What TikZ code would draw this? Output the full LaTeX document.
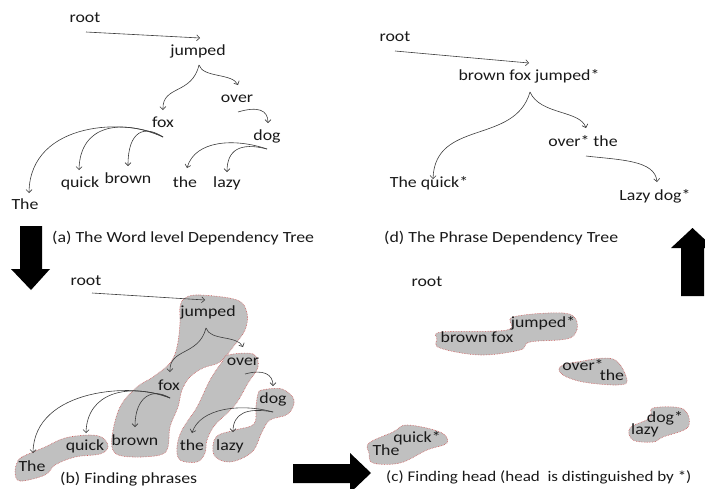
\documentclass[tikz,border=0pt]{standalone}
\usepackage{fontspec}
\setmainfont{Carlito}[FakeStretch=1.15]
\usetikzlibrary{arrows.meta,calc}
\definecolor{txt}{RGB}{25,25,25}
\definecolor{arr}{RGB}{60,60,60}
\definecolor{blobfill}{RGB}{192,192,192}
\definecolor{blobedge}{RGB}{205,90,90}
\begin{document}
\begin{tikzpicture}[x=1pt,y=-1pt,
  w/.style={font=\fontsize{15.5}{17}\selectfont, text=txt, inner sep=1pt, text height=10pt, text depth=3pt},
  captxt/.style={w, anchor=west},
  con/.style={draw=arr, line width=0.6pt, -{Straight Barb[length=3pt,width=6pt]}},
  blob/.style={fill=blobfill, draw=blobedge, densely dotted, line width=0.6pt},
  big/.style={fill=black, draw=none}]
\useasboundingbox (0,0) rectangle (705,488);
\clip (0,0) rectangle (705,488);

% ---------- block arrows ----------
\fill[big] (20,226) -- (42,226) -- (42,269) -- (50,269) -- (31,290) -- (11,269) -- (20,269) -- cycle;
\fill[big] (681,296) -- (704,296) -- (704,248) -- (714,248) -- (692.5,228) -- (671,248) -- (681,248) -- cycle;
\fill[big] (293,464) -- (350,464) -- (350,453) -- (371,473) -- (350,493) -- (350,483) -- (293,483) -- cycle;

% ---------- panel (a) ----------
\node[w] (rootA) at (85,19) {root};
\node[w] (jA) at (198,52) {jumped};
\node[w] (overA) at (237,99) {over};
\node[w] (foxA) at (163,124) {fox};
\node[w] (dogA) at (267,137) {dog};
\node[w] (quickA) at (80,184) {quick};
\node[w] (brownA) at (128,180) {brown};
\node[w] (TheA) at (25,206) {The};
\node[w] (theA) at (185,184) {the};
\node[w] (lazyA) at (227,184) {lazy};
\node[captxt] (capA) at (51,239) {(a) The Word level Dependency Tree};

\draw[con] ($(rootA)+(1,13)$) -- ($(jA)+(2,-14)$);
\draw[con] ($(jA)+(1,13)$) .. controls +(-7,30) and +(-1,-25) .. ($(foxA)+(0,-14)$);
\draw[con] ($(jA)+(1,13)$) .. controls +(4,13) and +(-6,-12) .. ($(overA)+(1,-14)$);
\draw[con] ($(overA)+(1,13)$) .. controls +(20,-6) and +(0,-13) .. ($(dogA)+(1,-14)$);
\draw[con] ($(foxA)+(0,13)$) .. controls +(-33,-19) and +(1,-73) .. ($(TheA)+(4,-13)$);
\draw[con] ($(foxA)+(0,13)$) .. controls +(-43,-19) and +(1,-45) .. ($(quickA)+(-1,-14)$);
\draw[con] ($(foxA)+(0,13)$) .. controls +(-18,-12) and +(0,-36) .. ($(brownA)+(0,-14)$);
\draw[con] ($(dogA)+(0,12)$) .. controls +(-32,-11) and +(8,-28) .. ($(theA)+(2,-16)$);
\draw[con] ($(dogA)+(0,12)$) .. controls +(-27,-7) and +(0,-22) .. ($(lazyA)+(0,-12)$);

% ---------- panel (d) ----------
\node[w] (rootD) at (395,38) {root};
\node[w] (bfjD) at (529,77) {brown fox jumped*};
\node[w] (overD) at (583,143) {over* the};
\node[w] (quickD) at (429,184) {The quick*};
\node[w] (lazyD) at (655,197) {Lazy dog*};
\node[captxt] (capD) at (383,239) {(d) The Phrase Dependency Tree};

\draw[con] ($(rootD)+(0,13)$) -- ($(bfjD)+(0,-14)$);
\draw[con] ($(bfjD)+(1,15)$) .. controls +(-15,53) and +(2,-60) .. ($(quickD)+(4,-5)$);
\draw[con] ($(bfjD)+(1,15)$) .. controls +(10,23) and +(-6,-18) .. ($(overD)+(3,-15)$);
\draw[con] ($(overD)+(3,13)$) .. controls +(34,4) and +(-2,-22) .. ($(lazyD)+(2,-15)$);

% ---------- panel (b) ----------
\path[blob] plot[smooth cycle, tension=0.6] coordinates {(185,298) (200,295) (237,300) (247,313) (245,330) (233,347) (220,362) (203,368) (190,377) (182,390) (178,407) (170,427) (168,447) (160,455) (133,457) (115,453) (112,437) (120,407) (137,387) (153,377) (170,363) (177,347) (180,323) (180,307)};
\path[blob] plot[smooth cycle, tension=0.6] coordinates {(228,355) (253,354) (258,367) (248,383) (235,405) (215,425) (207,440) (205,453) (197,462) (180,460) (177,447) (182,430) (197,407) (210,380) (222,362)};
\path[blob] plot[smooth cycle, tension=0.6] coordinates {(262,390) (282,389) (294,400) (288,414) (270,420) (262,432) (252,452) (230,462) (214,455) (216,437) (235,430) (254,424) (256,406) (258,394)};
\path[blob] plot[smooth cycle, tension=0.6] coordinates {(17,463) (22,457) (45,447) (65,438) (90,435) (103,438) (108,447) (100,454) (75,457) (55,465) (45,475) (20,481) (15,472)};

\node[w] (rootB) at (86,282) {root};
\node[w] (jB) at (208,313) {jumped};
\node[w] (overB) at (243,362) {over};
\node[w] (foxB) at (169,387) {fox};
\node[w] (dogB) at (273,400) {dog};
\node[w] (quickB) at (85,447) {quick};
\node[w] (brownB) at (135,442) {brown};
\node[w] (TheB) at (32,468) {The};
\node[w] (theB) at (192,447) {the};
\node[w] (lazyB) at (230,447) {lazy};
\node[captxt] (capB) at (59,480) {(b) Finding phrases};

\draw[con] ($(rootB)+(6,11)$) -- ($(jB)+(-3,-13)$);
\draw[con] ($(jB)+(-2,15)$) .. controls +(-7,28) and +(-1,-24) .. ($(foxB)+(1,-15)$);
\draw[con] ($(jB)+(-2,15)$) .. controls +(4,13) and +(-6,-12) .. ($(overB)+(0,-15)$);
\draw[con] ($(overB)+(2,12)$) .. controls +(18,-5) and +(0,-12) .. ($(dogB)+(0,-14)$);
\draw[con] ($(foxB)+(1,11)$) .. controls +(-35,-16) and +(1,-65) .. ($(TheB)+(1,-15)$);
\draw[con] ($(foxB)+(1,11)$) .. controls +(-43,-16) and +(1,-40) .. ($(quickB)+(1,-14)$);
\draw[con] ($(foxB)+(1,11)$) .. controls +(-18,-11) and +(0,-30) .. ($(brownB)+(0,-15)$);
\draw[con] ($(dogB)+(0,12)$) .. controls +(-32,-9) and +(8,-25) .. ($(theB)+(0,-14)$);
\draw[con] ($(dogB)+(0,12)$) .. controls +(-27,-5) and +(0,-18) .. ($(lazyB)+(3,-15)$);

% ---------- panel (c) ----------
\path[blob] plot[smooth cycle, tension=0.6] coordinates {(437,339) (442,332) (507,330) (513,317) (563,313) (577,322) (570,338) (530,342) (520,350) (480,355) (440,348)};
\path[blob] plot[smooth cycle, tension=0.6] coordinates {(560,367) (577,362) (613,359) (627,380) (617,385) (583,382) (563,375)};
\path[blob] plot[smooth cycle, tension=0.6] coordinates {(653,408) (683,409) (688,427) (663,437) (653,442) (633,440) (630,428) (650,418)};
\path[blob] plot[smooth cycle, tension=0.6] coordinates {(369,443) (393,432) (407,425) (440,432) (447,443) (427,450) (400,463) (373,463) (369,453)};

\node[w] (rootC) at (427,283) {root};
\node[w] (jC) at (543,324) {jumped*};
\node[w] (bfC) at (477,339) {brown fox};
\node[w] (overC) at (583,367) {over*};
\node[w] (theC) at (612,377) {the};
\node[w] (dogC) at (665,419) {dog*};
\node[w] (lazyC) at (645,431) {lazy};
\node[w] (quickC) at (417,439) {quick*};
\node[w] (TheC) at (386,452) {The};
\node[captxt, font=\fontsize{14.8}{16}\selectfont] (capC) at (385,478) {(c) Finding head (head\ \ is distinguished by *)};
\end{tikzpicture}
\end{document}
